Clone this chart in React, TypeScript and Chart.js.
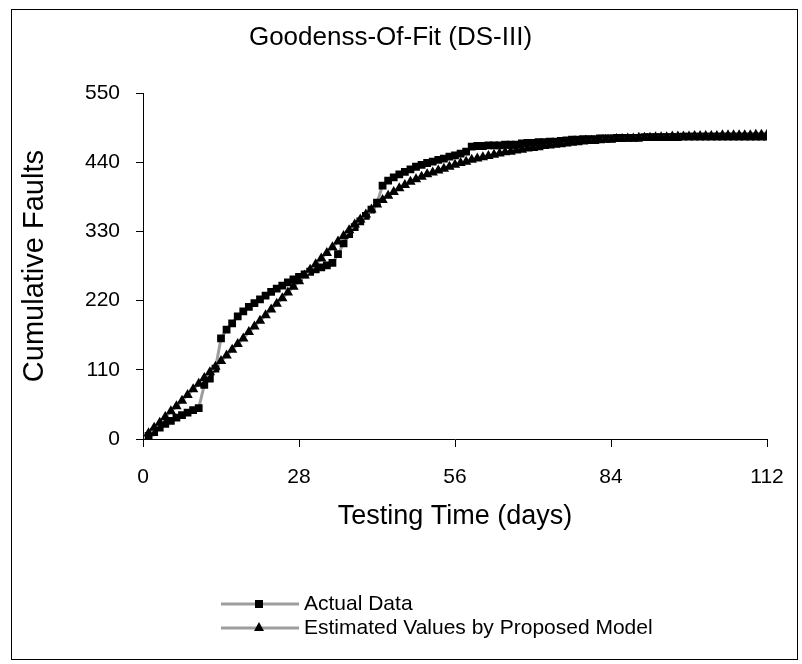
import React, { useEffect, useRef } from 'react';
import { Chart, registerables } from 'chart.js';

Chart.register(...registerables);

const FONT = '"Liberation Sans", Arial, Helvetica, sans-serif';

const TITLE = 'Goodenss-Of-Fit (DS-III)';
const X_TITLE = 'Testing Time (days)';
const Y_TITLE = 'Cumulative Faults';
const SERIES_NAMES = ['Actual Data', 'Estimated Values by Proposed Model'];

const X_TICKS = [0, 28, 56, 84, 112];
const Y_TICKS = [0, 110, 220, 330, 440, 550];

// testing days 1..112
const DAYS = Array.from({ length: 112 }, (_, i) => i + 1);

const ACTUAL = [
  5, 11, 18, 24, 29, 34, 38, 42, 46, 49,
  86, 96, 112, 160, 174, 184, 195, 203, 210, 216,
  222, 228, 234, 239, 244, 249, 254, 258, 262, 266,
  270, 273, 276, 280, 294, 311, 326, 337, 346, 355,
  365, 376, 403, 411, 416, 421, 425, 429, 433, 436,
  439, 441, 444, 446, 449, 451, 454, 457, 465, 466,
  466, 467, 467, 467, 468, 468, 468, 470, 471, 471,
  472, 472, 473, 473, 474, 475, 476, 476, 477, 477,
  477, 478, 478, 478, 479, 479, 479, 479, 479, 480,
  480, 480, 480, 480, 480, 480, 481, 481, 481, 481,
  481, 481, 481, 481, 481, 481, 481, 481, 481, 481, 481, 481,
];

const ESTIMATED = [
  9, 18, 26, 35, 44, 52, 61, 70, 79, 88,
  97, 106, 115, 124, 133, 142, 151, 160, 170, 179,
  188, 197, 206, 215, 224, 233, 242, 251, 260, 269,
  278, 287, 296, 305, 314, 323, 332, 341, 349, 357,
  365, 373, 380, 387, 393, 399, 404, 409, 413, 417,
  421, 424, 427, 430, 433, 436, 439, 441, 444, 446,
  448, 450, 452, 454, 456, 457, 459, 460, 462, 463,
  464, 466, 467, 468, 469, 470, 471, 472, 473, 474,
  474, 475, 476, 476, 477, 477, 478, 478, 479, 479,
  479, 480, 480, 480, 481, 481, 481, 481, 482, 482,
  482, 482, 482, 483, 483, 483, 483, 483, 483, 484, 484, 484,
];

const LINE_GREY = '#9e9e9e';

const framePlugin = {
  id: 'frameAndLegend',
  afterDraw(chart: any) {
    const ctx = chart.ctx;
    ctx.save();
    // outer frame
    ctx.strokeStyle = '#000';
    ctx.lineWidth = 1;
    ctx.strokeRect(11.5, 9.5, 786, 650);

    // legend
    const rows = [604, 628];
    chart.data.datasets.forEach((ds: any, i: number) => {
      const y = rows[i];
      ctx.strokeStyle = LINE_GREY;
      ctx.lineWidth = 3;
      ctx.beginPath();
      ctx.moveTo(221, y);
      ctx.lineTo(299, y);
      ctx.stroke();
      ctx.fillStyle = '#000';
      const cx = 259;
      if (ds.pointStyle === 'rect') {
        ctx.fillRect(cx - 4, y - 4, 8, 8);
      } else {
        ctx.beginPath();
        ctx.moveTo(cx, y - 6);
        ctx.lineTo(cx + 5, y + 3);
        ctx.lineTo(cx - 5, y + 3);
        ctx.closePath();
        ctx.fill();
      }
      ctx.fillStyle = '#000';
      ctx.font = `21px ${FONT}`;
      ctx.textAlign = 'left';
      ctx.textBaseline = 'middle';
      ctx.fillText(ds.label, 304, y);
    });
    ctx.restore();
  },
};

export default function App() {
  const ref = useRef<HTMLCanvasElement | null>(null);

  useEffect(() => {
    if (!ref.current) return;
    const chart = new Chart(ref.current, {
      type: 'line',
      data: {
        datasets: [
          {
            label: SERIES_NAMES[0],
            data: DAYS.map((d, i) => ({ x: d, y: ACTUAL[i] })),
            borderColor: LINE_GREY,
            borderWidth: 3,
            pointStyle: 'rect',
            pointRadius: 5.5,
            pointBackgroundColor: '#000',
            pointBorderColor: '#000',
            pointBorderWidth: 0,
            tension: 0,
            order: 1,
          },
          {
            label: SERIES_NAMES[1],
            data: DAYS.map((d, i) => ({ x: d, y: ESTIMATED[i] })),
            borderColor: LINE_GREY,
            borderWidth: 3,
            pointStyle: 'triangle',
            pointRadius: 6,
            pointBackgroundColor: '#000',
            pointBorderColor: '#000',
            pointBorderWidth: 0,
            tension: 0,
            order: 0,
          },
        ],
      },
      options: {
        animation: false,
        responsive: false,
        devicePixelRatio: 1,
        layout: { padding: { left: 14, right: 35, top: 0, bottom: 128 } },
        plugins: {
          legend: { display: false },
          tooltip: { enabled: false },
          title: {
            display: true,
            text: TITLE,
            color: '#000',
            font: { family: FONT, size: 26, weight: 'normal' },
            padding: { top: 22, bottom: 40 },
          },
        },
        scales: {
          x: {
            type: 'linear',
            min: 0,
            max: 112,
            afterBuildTicks: (s: any) => {
              s.ticks = X_TICKS.map((v) => ({ value: v }));
            },
            afterFit: (s: any) => {
              s.height = 97;
            },
            grid: {
              drawOnChartArea: false,
              drawTicks: true,
              tickLength: 8,
              color: '#000',
              lineWidth: 1,
            },
            border: { display: true, color: '#000', width: 1 },
            ticks: {
              color: '#000',
              font: { family: FONT, size: 21 },
              padding: 18,
              maxRotation: 0,
            },
            title: {
              display: true,
              text: X_TITLE,
              color: '#000',
              font: { family: FONT, size: 27 },
              padding: { top: 4, bottom: 3 },
            },
          },
          y: {
            type: 'linear',
            min: 0,
            max: 550,
            afterBuildTicks: (s: any) => {
              s.ticks = Y_TICKS.map((v) => ({ value: v }));
            },
            afterFit: (s: any) => {
              s.width = 129;
            },
            grid: {
              drawOnChartArea: false,
              drawTicks: true,
              tickLength: 7,
              color: '#000',
              lineWidth: 1,
            },
            border: { display: true, color: '#000', width: 1 },
            ticks: {
              color: '#000',
              font: { family: FONT, size: 21 },
              padding: 16,
            },
            title: {
              display: true,
              text: Y_TITLE,
              color: '#000',
              font: { family: FONT, size: 29 },
              padding: { top: 4, bottom: 4 },
            },
          },
        },
      },
      plugins: [framePlugin],
    } as any);
    return () => chart.destroy();
  }, []);

  return (
    <div style={{ position: 'fixed', left: 0, top: 0, width: 802, height: 664, background: '#fff' }}>
      <canvas ref={ref} width={802} height={664} style={{ width: 802, height: 664, display: 'block' }} />
    </div>
  );
}
